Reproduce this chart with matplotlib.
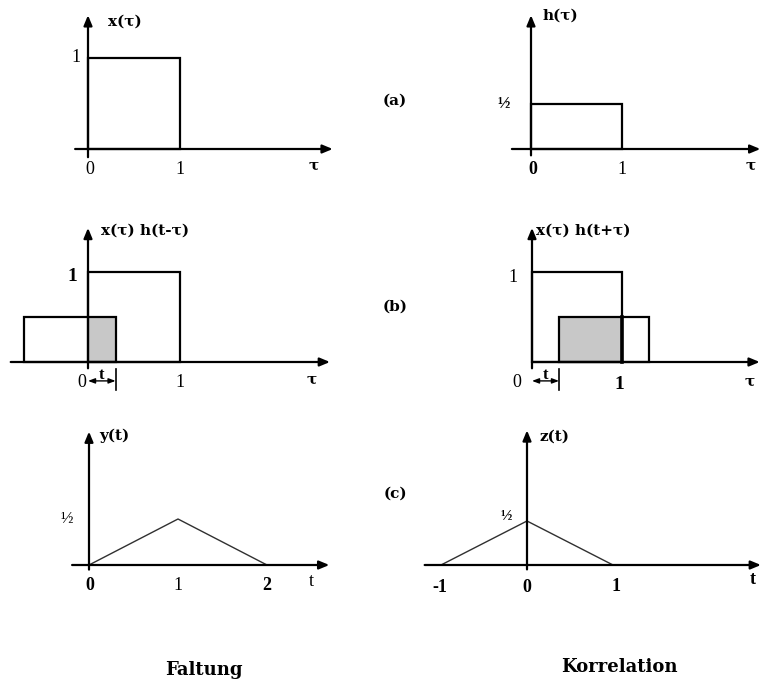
import matplotlib
matplotlib.use("Agg")
import matplotlib.pyplot as plt
from matplotlib.patches import Rectangle

W, H = 760, 688

# signals
x_height = 1.0          # x(tau): rectangle of height 1 on [0, 1]
x_width = 1.0
h_height = 0.5          # h(tau): rectangle of height 1/2 on [0, 1]
h_width = 1.0
shift_t = 0.3           # shift t used in the (b) sketches
conv_t = [0, 1, 2]      # y(t) = x * h
conv_y = [0, 0.5, 0]
corr_t = [-1, 0, 1]     # z(t) = x (*) h
corr_z = [0, 0.5, 0]

fig = plt.figure(figsize=(W / 100, H / 100), dpi=100)
plt.rcParams['font.family'] = ['Liberation Serif', 'DejaVu Serif']
LABEL_FONT = ['DejaVu Serif', 'Liberation Serif']

GRAY = '#c8c8c8'
LW = 1.6


def panel(ox, oy, ux, uy, xlim, ylim):
    # axes placed so that data (0,0) sits at pixel (ox, oy), ux/uy px per unit
    x0, x1 = xlim
    y0, y1 = ylim
    left = (ox + x0 * ux) / W
    bottom = 1 - (oy - y0 * uy) / H
    ax = fig.add_axes([left, bottom, (x1 - x0) * ux / W, (y1 - y0) * uy / H])
    ax.set_xlim(xlim)
    ax.set_ylim(ylim)
    ax.axis('off')
    return ax


def axes_arrows(ax, xa, ya):
    kw = dict(arrowstyle='-|>,head_length=0.6,head_width=0.25', color='black',
              lw=LW, shrinkA=0, shrinkB=0)
    ax.annotate('', xy=(xa[1], 0), xytext=(xa[0], 0), arrowprops=kw,
                annotation_clip=False)
    ax.annotate('', xy=(0, ya[1]), xytext=(0, ya[0]), arrowprops=kw,
                annotation_clip=False)


def txt(ax, x, y, s, size=13, bold=False, ha='center', family=None):
    ax.text(x, y, s, ha=ha, va='center', fontsize=size,
            fontweight='bold' if bold else 'normal', clip_on=False,
            family=family)


def label(ax, x, y, s):
    # function name above the vertical axis
    txt(ax, x, y, s, size=11, bold=True, ha='left', family=LABEL_FONT)


def tau(ax, x, y):
    txt(ax, x, y, 'τ', size=11, bold=True, family=LABEL_FONT)


def rect(ax, x0, w, h, fill=False):
    ax.add_patch(Rectangle((x0, 0), w, h, fill=fill,
                           facecolor=GRAY if fill else 'none',
                           edgecolor='black' if not fill else 'none',
                           lw=LW, clip_on=False))


def t_marker(ax, t):
    # little dimension arrow below the axis, from 0 to t
    ax.plot([t, t], [-0.08, -0.31], color='black', lw=1.2, clip_on=False)
    ax.annotate('', xy=(t, -0.21), xytext=(0, -0.21),
                arrowprops=dict(arrowstyle='<|-|>,head_length=0.4,head_width=0.15',
                                color='black', lw=1.0, shrinkA=0, shrinkB=0),
                annotation_clip=False)
    txt(ax, t / 2, -0.14, 't', size=12, bold=True)


# (a) left: x(tau)
ax = panel(88, 149, 92, 91, (-0.9, 2.8), (-0.4, 1.55))
rect(ax, 0, x_width, x_height)
axes_arrows(ax, (-0.14, 2.66), (-0.09, 1.47))
txt(ax, -0.13, 1.0, '1')
txt(ax, 0.02, -0.22, '0')
txt(ax, 1.0, -0.22, '1')
tau(ax, 2.45, -0.18)
label(ax, 0.22, 1.4, 'x(τ)')

# (a) right: h(tau)
ax = panel(531, 149, 91, 91, (-0.5, 2.6), (-0.4, 1.55))
rect(ax, 0, h_width, h_height)
axes_arrows(ax, (-0.21, 2.52), (-0.07, 1.47))
txt(ax, -0.3, 0.5, '½', size=12, bold=True)
txt(ax, 0.02, -0.22, '0', bold=True)
txt(ax, 1.0, -0.22, '1')
tau(ax, 2.41, -0.18)
label(ax, 0.13, 1.46, 'h(τ)')

# (b) left: x(tau) h(t - tau)
ax = panel(88, 362, 92, 90, (-0.9, 2.8), (-0.4, 1.55))
rect(ax, 0, shift_t, h_height, fill=True)
rect(ax, shift_t - h_width, h_width, h_height)
rect(ax, 0, x_width, x_height)
axes_arrows(ax, (-0.84, 2.63), (-0.07, 1.49))
t_marker(ax, shift_t)
txt(ax, -0.17, 0.95, '1', size=14, bold=True)
txt(ax, -0.07, -0.23, '0')
txt(ax, 1.0, -0.23, '1')
tau(ax, 2.43, -0.2)
label(ax, 0.14, 1.46, 'x(τ) h(t-τ)')

# (b) right: x(tau) h(t + tau)
ax = panel(532, 362, 90, 90, (-0.5, 2.6), (-0.4, 1.55))
rect(ax, shift_t, x_width - shift_t, h_height, fill=True)
rect(ax, shift_t, h_width, h_height)
rect(ax, 0, x_width, x_height)
ax.plot([x_width, x_width], [0, h_height], color='black', lw=2.6)
axes_arrows(ax, (0.0, 2.53), (-0.07, 1.49))
t_marker(ax, shift_t)
txt(ax, -0.21, 0.94, '1')
txt(ax, -0.17, -0.23, '0')
txt(ax, 0.97, -0.25, '1', size=14, bold=True)
tau(ax, 2.42, -0.22)
label(ax, 0.04, 1.46, 'x(τ) h(t+τ)')

# (c) left: convolution result y(t)
ax = panel(89, 565, 89, 92, (-0.9, 2.8), (-0.4, 1.55))
ax.plot(conv_t, conv_y, color='#303030', lw=1.0)
axes_arrows(ax, (-0.19, 2.7), (-0.05, 1.45))
txt(ax, -0.25, 0.51, '½', size=12)
txt(ax, 0.01, -0.22, '0', bold=True)
txt(ax, 1.0, -0.22, '1')
txt(ax, 2.0, -0.22, '2', bold=True)
txt(ax, 2.5, -0.18, 't', size=13)
label(ax, 0.12, 1.4, 'y(t)')

# (c) right: correlation result z(t)
ax = panel(527, 565, 86, 88, (-1.5, 2.8), (-0.4, 1.6))
ax.plot(corr_t, corr_z, color='#303030', lw=1.0)
axes_arrows(ax, (-1.19, 2.72), (-0.05, 1.53))
txt(ax, -0.24, 0.56, '½', size=11, bold=True)
txt(ax, -1.01, -0.25, '-1', bold=True)
txt(ax, 0.0, -0.26, '0', bold=True)
txt(ax, 1.03, -0.24, '1', bold=True)
txt(ax, 2.62, -0.17, 't', size=13, bold=True)
label(ax, 0.15, 1.46, 'z(t)')

# row labels and column titles
for lab, yp in [('(a)', 101), ('(b)', 307), ('(c)', 494)]:
    fig.text(395 / W, 1 - yp / H, lab, ha='center', va='center',
             fontsize=11, fontweight='bold', family=LABEL_FONT)
fig.text(204 / W, 1 - 670 / H, 'Faltung', ha='center', va='center',
         fontsize=13, fontweight='bold', family=LABEL_FONT)
fig.text(619 / W, 1 - 667 / H, 'Korrelation', ha='center', va='center',
         fontsize=13, fontweight='bold', family=LABEL_FONT)

fig.savefig('out.png', dpi=100, facecolor='white')
